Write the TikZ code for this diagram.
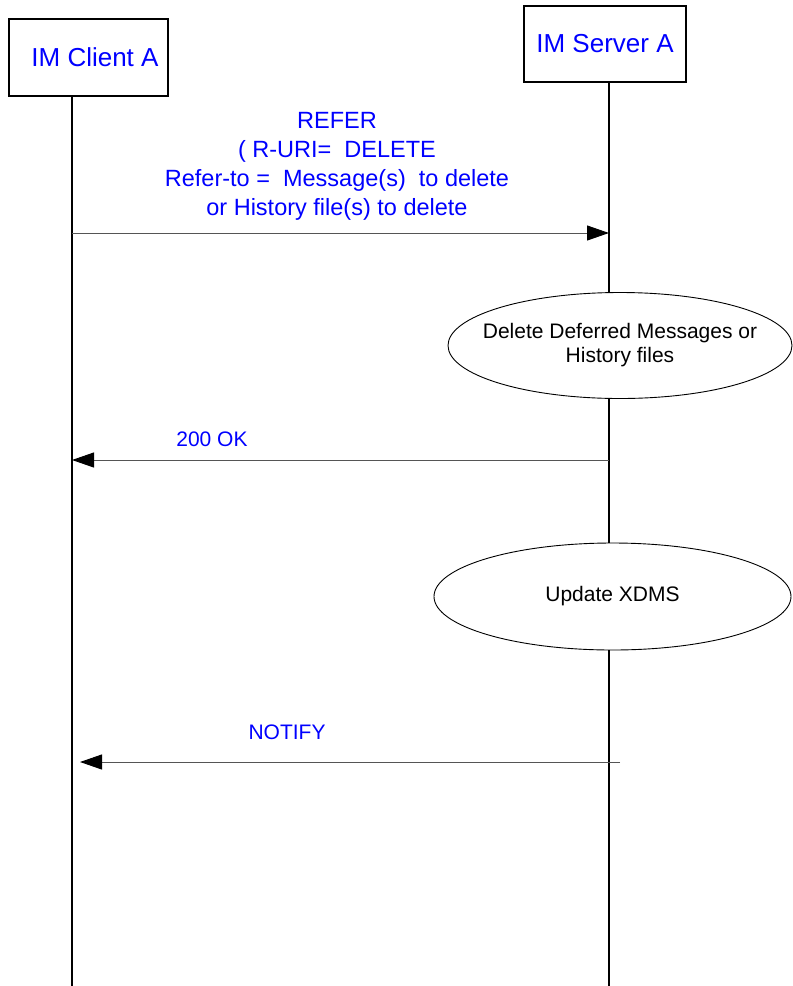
\documentclass[tikz,border=0pt]{standalone}
\usepackage{fontspec}
\setmainfont{Liberation Sans}
\usepackage{tikz}
\usetikzlibrary{shapes.geometric, arrows.meta, positioning, calc}
\definecolor{msgblue}{RGB}{0,0,255}
\definecolor{msggray}{RGB}{85,85,85}
\tikzset{
  %% ---- boxes ----
  actor/.style    = {rectangle, draw=black, line width=1.5pt, fill=white,
                     minimum width=#1, minimum height=77pt, inner sep=0pt,
                     text=msgblue, font=\fontsize{26}{30}\selectfont},
  actor/.default  = 160pt,
  proc/.style     = {ellipse, draw=black, line width=0.9pt, fill=white,
                     inner sep=0pt, minimum width=#1, minimum height=106pt},
  proc/.default   = 344pt,
  proctext/.style = {align=center, font=\fontsize{21}{24}\selectfont},
  msglabel/.style = {align=center, text=msgblue,
                     font=\fontsize{21}{25}\selectfont},
  %% ---- lines ----
  lifeline/.style = {line width=1.5pt, color=black},
  msg/.style      = {-{Triangle[length=22pt, width=15pt, color=black]},
                     line width=1pt, color=msggray},
}

\begin{document}
\begin{tikzpicture}[x=1pt, y=-1pt]

  \useasboundingbox (0,0) rectangle (793,986);

  % lifeline columns and rows
  \coordinate (cl) at (72,0);
  \coordinate (sv) at (609,0);
  \coordinate (bot) at (0,986);

  % actors
  \node[actor=159pt] (clientA) at (88.5,57.5) {\hspace*{13pt}IM Client A};
  \node[actor=162pt, minimum height=76pt] (serverA) at (605,44) {IM Server A};

  % server side actions
  \node[proc] (delmsg) at (620,345.5) {};
  \node[proctext] (deltext) at (delmsg) {Delete Deferred Messages or\\History files};
  \node[proc=357pt, minimum height=107pt] (updxdms) at (612.5,596.5) {};
  \node[proctext] (updtext) at (updxdms) {Update XDMS};

  % lifelines
  \draw[lifeline] (cl |- clientA.south) -- (cl |- bot);
  \draw[lifeline] (sv |- serverA.south) -- (sv |- delmsg.north);
  \draw[lifeline] (sv |- delmsg.south) -- (sv |- updxdms.north);
  \draw[lifeline] (sv |- updxdms.south) -- (sv |- bot);

  % messages
  \coordinate (yrefer) at (0,233);
  \coordinate (yok) at (0,460);
  \coordinate (notifyend) at (620,762);
  \coordinate (notifytip) at (80,762);

  \draw[msg] (cl |- yrefer) -- (sv |- yrefer);
  \node[msglabel, font=\fontsize{23.5}{29}\selectfont] (referlbl) at (337,166)
    {REFER\\
     ( R-URI=\ \ DELETE\\
     Refer-to =\ \ Message(s)\ \ to delete\\
     or History file(s) to delete};

  \draw[msg] (sv |- yok) -- (cl |- yok);
  \node[msglabel] (oklbl) at (212,439) {200 OK};

  \draw[msg] (notifyend) -- (notifytip);
  \node[msglabel] (notifylbl) at (287,732) {NOTIFY};

\end{tikzpicture}
\end{document}
